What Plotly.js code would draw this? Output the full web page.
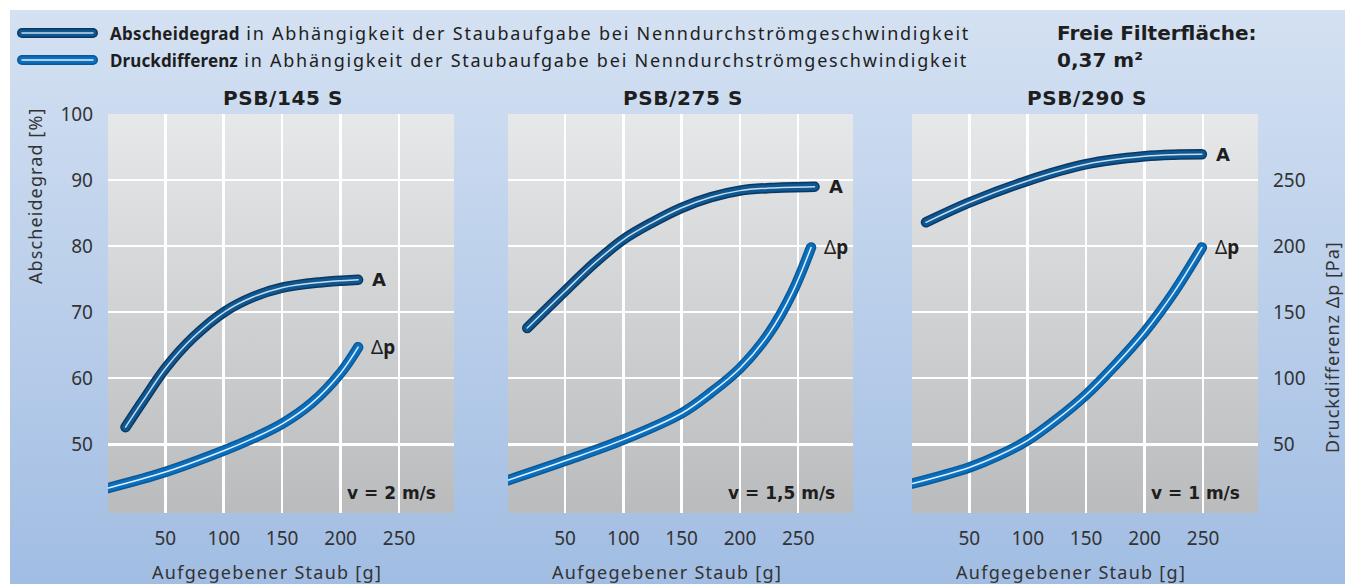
<!DOCTYPE html>
<html>
<head>
<meta charset="utf-8">
<script src="https://cdn.plot.ly/plotly-3.0.1.min.js"></script>
<style>
  html, body { margin: 0; padding: 0; background: #ffffff; }
  #chart { width: 1345px; height: 584px; }
  .js-line { stroke-linecap: round; }
  .shapelayer path { stroke-linecap: round; }
</style>
</head>
<body>
<div id="chart"></div>
<script>
// ---------------- data ----------------
const panelTitles = ["PSB/145 S", "PSB/275 S", "PSB/290 S"];
const velocities = ["v = 2 m/s", "v = 1,5 m/s", "v = 1 m/s"];
const xTickVals = [50, 100, 150, 200, 250];
const leftTickVals = [50, 60, 70, 80, 90, 100];
const rightTickVals = [50, 100, 150, 200, 250];

// PSB/145 S  (A in %, Δp in Pa)
const p1A_x = [16, 31, 51, 74, 101, 125, 150, 182, 215];
const p1A_y = [52.6, 56.6, 61.7, 66.2, 70.1, 72.3, 73.7, 74.5, 74.9];
const p1P_x = [1.5, 50, 101, 125, 150, 175, 200, 215];
const p1P_y = [17, 29, 45.5, 54.5, 65.5, 81, 104, 123.5];
// PSB/275 S
const p2A_x = [17.5, 50, 75, 100, 125, 150, 175, 200, 226, 264];
const p2A_y = [67.6, 73.2, 77.4, 81.0, 83.6, 85.8, 87.4, 88.4, 88.8, 89.0];
const p2P_x = [1, 50, 100, 150, 175, 200, 225, 245, 261];
const p2P_y = [22.8, 37.5, 53.5, 73.5, 89, 107.5, 134, 165, 199];
// PSB/290 S
const p3A_x = [13, 50, 100, 150, 200, 225, 249];
const p3A_y = [83.6, 86.6, 89.9, 92.4, 93.6, 93.85, 93.9];
const p3P_x = [1.5, 50, 75, 100, 125, 150, 175, 200, 225, 249];
const p3P_y = [20.3, 32.5, 41.5, 53, 69, 87.5, 110, 135, 165, 199];

// ---------------- style ----------------
const FONT = "Noto Sans, Open Sans, sans-serif";
const FONTB = "DejaVu Sans, Noto Sans, sans-serif";
const TXT = "#1e1e1e";
const TICK = "#333333";
const styleA = { outline: "#0a3862", main: "#0f5790", hi: "rgba(220,235,250,0.9)" };
const styleP = { outline: "#0a5996", main: "#0b6fbe", hi: "rgba(235,245,255,0.95)" };

function tube(x, y, xa, ya, st) {
  const base = { x: x, y: y, xaxis: xa, yaxis: ya, mode: "lines", hoverinfo: "skip", showlegend: false };
  return [
    Object.assign({}, base, { line: { color: st.outline, width: 10.5, shape: "spline", smoothing: 1 } }),
    Object.assign({}, base, { line: { color: st.main, width: 7.5, shape: "spline", smoothing: 1 } }),
    Object.assign({}, base, { line: { color: st.hi, width: 1.5, shape: "spline", smoothing: 1 } })
  ];
}

const traces = [].concat(
  tube(p1A_x, p1A_y, "x", "y", styleA),
  tube(p1P_x, p1P_y, "x", "y5", styleP),
  tube(p2A_x, p2A_y, "x2", "y2", styleA),
  tube(p2P_x, p2P_y, "x2", "y6", styleP),
  tube(p3A_x, p3A_y, "x3", "y3", styleA),
  tube(p3P_x, p3P_y, "x3", "y4", styleP)
);

function grad(c1, c2) {
  const svg = '<svg xmlns="http://www.w3.org/2000/svg" width="100" height="100" viewBox="0 0 100 100" preserveAspectRatio="none">' +
    '<defs><linearGradient id="g" x1="0" y1="0" x2="0" y2="1"><stop offset="0" stop-color="' + c1 + '"/>' +
    '<stop offset="1" stop-color="' + c2 + '"/></linearGradient></defs><rect width="100" height="100" fill="url(#g)"/></svg>';
  return "data:image/svg+xml;charset=utf-8," + encodeURIComponent(svg);
}

const W = 1345, H = 584;
const xDomains = [[108 / W, 454 / W], [508 / W, 853 / W], [912 / W, 1258 / W]];
const yDomain = [1 - 513 / H, 1 - 114 / H];
const leftRange = [39.6, 100];
const rightRange = [-2, 300];
const xRange = [1, 297];

function xaxis(i) {
  return {
    domain: xDomains[i], range: xRange, anchor: i === 0 ? "y" : "y" + (i + 1),
    tickvals: xTickVals, ticks: "", showline: false, zeroline: false,
    showgrid: true, gridcolor: "#ffffff", gridwidth: 2.5,
    tickfont: { family: FONT, size: 19, color: TICK }, ticklabelstandoff: 12,
    fixedrange: true
  };
}
function yaxis(i, labels) {
  return {
    domain: yDomain, range: leftRange, anchor: i === 0 ? "x" : "x" + (i + 1),
    tickvals: leftTickVals, ticks: "", showline: false, zeroline: false,
    showgrid: true, gridcolor: "#ffffff", gridwidth: 2.5,
    showticklabels: labels, tickfont: { family: FONT, size: 19, color: TICK }, ticklabelstandoff: 14,
    fixedrange: true
  };
}

const images = [
  { source: grad("#d4e1f2", "#a1bde3"), xref: "paper", yref: "paper", x: 10 / W, y: 1 - 10 / H,
    sizex: 1 - 10 / W, sizey: 1 - 10 / H, xanchor: "left", yanchor: "top", sizing: "stretch", layer: "below" }
];
["", "2", "3"].forEach(function (s) {
  images.push({ source: grad("#e7e8ea", "#babbbd"), xref: "x" + s + " domain", yref: "y" + s + " domain",
    x: 0, y: 1, sizex: 1, sizey: 1, xanchor: "left", yanchor: "top", sizing: "stretch", layer: "below" });
});

function spaced(t, px, extra) {
  return '<span style="letter-spacing:' + px + 'px' + (extra ? ';' + extra : '') + '">' + t + '</span>';
}

const annotations = [];
// legend texts
annotations.push({ xref: "paper", yref: "paper", x: 108 / W, y: 1 - 33 / H, xanchor: "left", yanchor: "middle", showarrow: false,
  text: "<b>" + spaced("Abscheidegrad", 0.3) + "</b>" + spaced(" in Abhängigkeit der Staubaufgabe bei Nenndurchströmgeschwindigkeit", 1.77, "font-size:18px"),
  font: { family: FONT, size: 17, color: TXT } });
annotations.push({ xref: "paper", yref: "paper", x: 108 / W, y: 1 - 60 / H, xanchor: "left", yanchor: "middle", showarrow: false,
  text: "<b>" + spaced("Druckdifferenz", 0.1) + "</b>" + spaced(" in Abhängigkeit der Staubaufgabe bei Nenndurchströmgeschwindigkeit", 1.77, "font-size:18px"),
  font: { family: FONT, size: 17, color: TXT } });
annotations.push({ xref: "paper", yref: "paper", x: 1055 / W, y: 1 - 33 / H, xanchor: "left", yanchor: "middle", showarrow: false,
  text: "<b>Freie Filterfläche:</b>", font: { family: FONTB, size: 20, color: TXT } });
annotations.push({ xref: "paper", yref: "paper", x: 1055 / W, y: 1 - 60 / H, xanchor: "left", yanchor: "middle", showarrow: false,
  text: "<b>0,37 m²</b>", font: { family: FONTB, size: 20, color: TXT } });
// panel titles, x-axis titles and velocity labels
panelTitles.forEach(function (t, i) {
  const s = i === 0 ? "" : String(i + 1);
  annotations.push({ xref: "x" + s + " domain", yref: "paper", x: 0.5, y: 1 - 98 / H, xshift: 2,
    xanchor: "center", yanchor: "middle", showarrow: false, text: "<b>" + spaced(t, 0.6) + "</b>",
    font: { family: FONTB, size: 20, color: TXT } });
  annotations.push({ xref: "x" + s + " domain", yref: "paper", x: 0.5, y: 1 - 572 / H, xshift: -14,
    xanchor: "center", yanchor: "middle", showarrow: false, text: spaced("Aufgegebener Staub [g]", 1.27),
    font: { family: FONT, size: 18, color: TICK } });
  annotations.push({ xref: "x" + s + " domain", yref: "y" + s + " domain", x: 1, y: 0, xanchor: "right", yanchor: "bottom",
    xshift: -16, yshift: 8, showarrow: false, text: "<b>" + velocities[i] + "</b>",
    font: { family: FONTB, size: 17, color: TXT } });
});
// curve end labels (anchored on the last data point of each curve)
const ends = [
  [p1A_x, p1A_y, "x", "y", p1P_x, p1P_y, "y5"],
  [p2A_x, p2A_y, "x2", "y2", p2P_x, p2P_y, "y6"],
  [p3A_x, p3A_y, "x3", "y3", p3P_x, p3P_y, "y4"]
];
ends.forEach(function (e) {
  const n = e[0].length - 1, m = e[4].length - 1;
  annotations.push({ xref: e[2], yref: e[3], x: e[0][n], y: e[1][n], xanchor: "left", yanchor: "middle",
    xshift: 12, showarrow: false, text: "<b>A</b>", font: { family: FONTB, size: 18, color: TXT } });
  annotations.push({ xref: e[2], yref: e[6], x: e[4][m], y: e[5][m], xanchor: "left", yanchor: "middle",
    xshift: 11, showarrow: false, text: "Δ<b>p</b>", font: { family: FONT, size: 19, color: TXT } });
});
// y-axis titles
annotations.push({ xref: "paper", yref: "paper", x: 35 / W, y: 1 - 196 / H, xanchor: "center", yanchor: "middle",
  textangle: -90, showarrow: false, text: spaced("Abscheidegrad [%]", 1.1), font: { family: FONT, size: 18, color: TICK } });
annotations.push({ xref: "paper", yref: "paper", x: 1332 / W, y: 1 - 347 / H, xanchor: "center", yanchor: "middle",
  textangle: -90, showarrow: false, text: spaced("Druckdifferenz Δp [Pa]", 1.0), font: { family: FONT, size: 18, color: TICK } });

// legend icons
const shapes = [];
[[33, styleA], [60, styleP]].forEach(function (r) {
  const y = 1 - r[0] / H;
  [[r[1].outline, 10], [r[1].main, 7], [r[1].hi, 1.5]].forEach(function (l) {
    shapes.push({ type: "line", xref: "paper", yref: "paper", x0: 22 / W, x1: 93 / W, y0: y, y1: y,
      line: { color: l[0], width: l[1] } });
  });
});

const layout = {
  width: W, height: H,
  margin: { l: 0, r: 0, t: 0, b: 0, pad: 0 },
  paper_bgcolor: "rgba(0,0,0,0)", plot_bgcolor: "rgba(0,0,0,0)",
  showlegend: false,
  font: { family: FONT, color: TICK },
  xaxis: xaxis(0), xaxis2: xaxis(1), xaxis3: xaxis(2),
  yaxis: yaxis(0, true), yaxis2: yaxis(1, false), yaxis3: yaxis(2, false),
  yaxis4: { overlaying: "y3", anchor: "x3", side: "right", range: rightRange, tickvals: rightTickVals, ticks: "",
    showgrid: false, zeroline: false, showline: false, tickfont: { family: FONT, size: 19, color: TICK },
    ticklabelstandoff: 14, fixedrange: true },
  yaxis5: { overlaying: "y", anchor: "x", range: rightRange, visible: false, fixedrange: true },
  yaxis6: { overlaying: "y2", anchor: "x2", range: rightRange, visible: false, fixedrange: true },
  images: images, annotations: annotations, shapes: shapes
};

Plotly.newPlot("chart", traces, layout, { displayModeBar: false, staticPlot: true });
</script>
</body>
</html>
